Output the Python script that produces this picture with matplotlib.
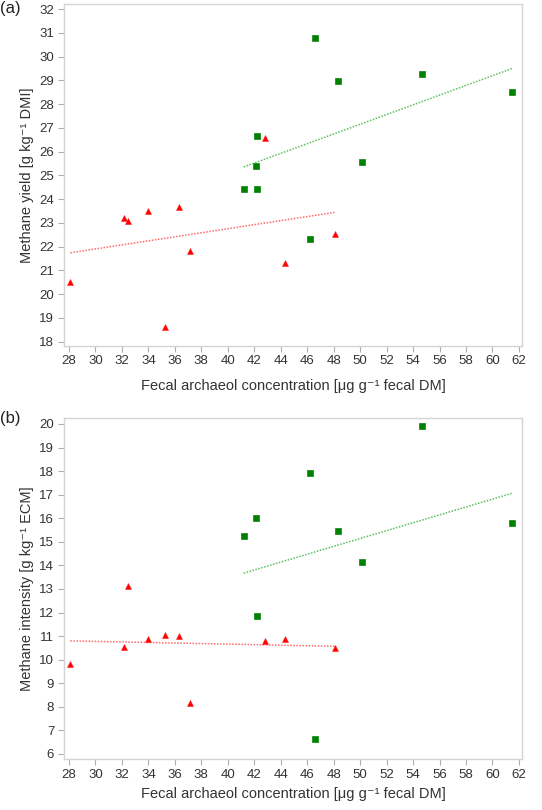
import numpy as np
import matplotlib.pyplot as plt

plt.rcParams['font.family'] = ['Liberation Sans', 'DejaVu Sans']

# red triangles (group 1)
red_x = [28.1, 32.13, 32.48, 33.94, 35.25, 36.28, 37.17, 42.81, 44.32, 48.07]
red_yield = [20.52, 23.19, 23.09, 23.51, 18.63, 23.67, 21.83, 26.56, 21.30, 22.54]
red_intensity = [9.82, 10.52, 13.13, 10.86, 11.05, 11.00, 8.16, 10.79, 10.89, 10.51]

# green squares (group 2)
green_x_yield = [41.2, 42.13, 42.23, 42.23, 46.21, 46.59, 48.32, 50.16, 54.64, 61.5]
green_yield = [24.42, 25.39, 26.67, 24.41, 22.32, 30.79, 28.97, 25.56, 29.25, 28.52]
green_x_int = [41.2, 42.13, 42.23, 46.21, 46.59, 48.32, 50.16, 54.64, 61.5]
green_intensity = [15.25, 16.00, 11.85, 17.90, 6.65, 15.47, 14.13, 19.93, 15.80]

# fitted lines (slope, intercept)
red_fit_yield = (0.0851, 19.35)
green_fit_yield = (0.2044, 16.93)
red_fit_int = (-0.0115, 11.12)
green_fit_int = (0.167, 6.79)

xticks = np.arange(28, 63, 2)

fig = plt.figure(figsize=(5.42, 8.1), dpi=100)
ax1 = fig.add_axes([0.118, 0.5732, 0.845, 0.4218])
ax2 = fig.add_axes([0.118, 0.0625, 0.845, 0.4211])


def panel(ax, rx, ry, gx, gy, rfit, gfit, ylim, yticks, ylabel, xpad):
    for xs, fit, col in [(rx, rfit, '#ff6b6b'), (gx, gfit, '#5cbf5c')]:
        xx = np.array([min(xs), max(xs)])
        ax.plot(xx, fit[0] * xx + fit[1], color=col, lw=1.1, ls=(0, (1, 1)))
    ax.plot(gx, gy, 's', color='#008000', mec='#1f8f1f', ms=4.6, mew=0.6, ls='none')
    ax.plot(rx, ry, '^', color='#ff0000', mec='#ff2020', ms=4.6, mew=0.4, ls='none')
    ax.set_xlim(27.62, 62.23)
    ax.set_ylim(*ylim)
    ax.set_xticks(xticks)
    ax.set_yticks(yticks)
    for s in ax.spines.values():
        s.set_color('#d4d4d4')
        s.set_linewidth(1.0)
    ax.tick_params(colors='#b0b0b0', labelcolor='#333333', labelsize=9.5,
                   length=4, width=0.8, direction='out', pad=3)
    ax.set_xlabel('Fecal archaeol concentration [μg g⁻¹ fecal DM]',
                  fontsize=10.5, color='#333333', labelpad=xpad)
    ax.set_ylabel(ylabel, fontsize=10.5, color='#333333', labelpad=4)


panel(ax1, red_x, red_yield, green_x_yield, green_yield, red_fit_yield, green_fit_yield,
      (17.83, 32.21), np.arange(18, 33), 'Methane yield [g kg⁻¹ DMI]', 8.5)
panel(ax2, red_x, red_intensity, green_x_int, green_intensity, red_fit_int, green_fit_int,
      (5.77, 20.24), np.arange(6, 21), 'Methane intensity [g kg⁻¹ ECM]', 4)

fig.text(0.0, 1 - 9 / 810, '(a)', fontsize=12, va='center', ha='left', color='#222222')
fig.text(0.0, 1 - 419 / 810, '(b)', fontsize=12, va='center', ha='left', color='#222222')

fig.savefig('out.png', dpi=100)
